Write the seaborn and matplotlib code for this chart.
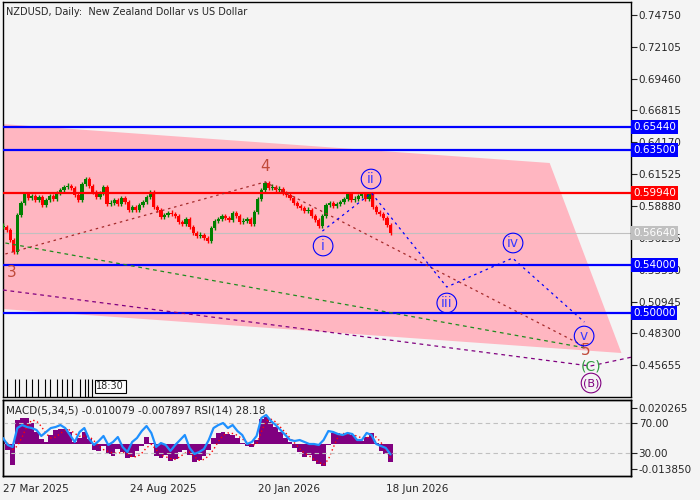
import numpy as np
import pandas as pd
import matplotlib
matplotlib.use("Agg")
import matplotlib.pyplot as plt
import seaborn as sns

sns.set_style("white")
plt.rcParams["font.family"] = ["DejaVu Sans"]
BG = "#f4f4f4"

# daily closes, one value read every 3 bars
close_step = 3
closes = [0.5714, 0.5689, 0.5606, 0.5506, 0.5813, 0.5913, 0.5988, 0.5954, 0.5971, 0.5938,
          0.5963, 0.5896, 0.5938, 0.5971, 0.5946, 0.5996, 0.6021, 0.6046, 0.6054, 0.6037,
          0.5979, 0.5938, 0.6071, 0.6112, 0.6054, 0.6004, 0.5963, 0.5996, 0.6046, 0.5905,
          0.5913, 0.5938, 0.5905, 0.5954, 0.5921, 0.5855, 0.5880, 0.5855, 0.5896, 0.5921,
          0.5963, 0.6004, 0.5880, 0.5855, 0.5797, 0.5813, 0.5830, 0.5822, 0.5805, 0.5755,
          0.5739, 0.5780, 0.5714, 0.5664, 0.5639, 0.5647, 0.5622, 0.5598, 0.5705, 0.5763,
          0.5780, 0.5805, 0.5788, 0.5772, 0.5830, 0.5805, 0.5755, 0.5763, 0.5780, 0.5739,
          0.5838, 0.5946, 0.6021, 0.6079, 0.6037, 0.6046, 0.6021, 0.6029, 0.5996, 0.5979,
          0.5954, 0.5913, 0.5888, 0.5871, 0.5846, 0.5855, 0.5805, 0.5772, 0.5722, 0.5805,
          0.5896, 0.5913, 0.5888, 0.5905, 0.5921, 0.5946, 0.5988, 0.5938, 0.5946, 0.5971,
          0.5988, 0.5946, 0.5988, 0.5880, 0.5838, 0.5822, 0.5788, 0.5730, 0.5664]

# MACD(5,34,5) and RSI(14), one value read every 4 bars
ind_step = 4
macd_hist = [0.0023, -0.0032, -0.0116, 0.0135, 0.0147, 0.0147, 0.0119, 0.0068, 0.0029, 0.0012,
             0.0051, 0.0079, 0.0085, 0.0085, 0.0068, 0.0012, 0.0035, 0.0068, 0.0029, -0.0032,
             -0.0038, -0.0010, -0.0055, -0.0066, -0.0027, -0.0044, -0.0077, -0.0072, -0.0038, -0.0010,
             0.0040, 0.0007, -0.0066, -0.0077, -0.0060, -0.0094, -0.0083, -0.0044, -0.0032, -0.0060,
             -0.0100, -0.0088, -0.0066, -0.0032, 0.0035, 0.0063, 0.0068, 0.0057, 0.0051, 0.0035,
             0.0007, -0.0010, -0.0016, 0.0023, 0.0141, 0.0152, 0.0124, 0.0096, 0.0068, 0.0035,
             0.0012, -0.0021, -0.0044, -0.0072, -0.0060, -0.0094, -0.0111, -0.0122, -0.0004, 0.0063,
             0.0063, 0.0051, 0.0057, 0.0051, 0.0029, 0.0018, 0.0040, 0.0063, 0.0007, -0.0038,
             -0.0055, -0.0100]
macd_signal = [0.0010, 0.0005, -0.0030, -0.0010, 0.0040, 0.0100, 0.0135, 0.0130, 0.0100, 0.0060,
               0.0035, 0.0040, 0.0060, 0.0080, 0.0080, 0.0060, 0.0045, 0.0045, 0.0045, 0.0020,
               -0.0010, -0.0030, -0.0040, -0.0050, -0.0050, -0.0045, -0.0055, -0.0070, -0.0070, -0.0050,
               -0.0020, 0.0000, -0.0030, -0.0060, -0.0070, -0.0080, -0.0085, -0.0070, -0.0050, -0.0045,
               -0.0070, -0.0090, -0.0085, -0.0065, -0.0030, 0.0015, 0.0050, 0.0063, 0.0060, 0.0050,
               0.0030, 0.0010, -0.0005, 0.0000, 0.0070, 0.0130, 0.0140, 0.0125, 0.0095, 0.0065,
               0.0035, 0.0005, -0.0025, -0.0050, -0.0065, -0.0085, -0.0100, -0.0115, -0.0085, -0.0020,
               0.0040, 0.0060, 0.0058, 0.0055, 0.0045, 0.0035, 0.0035, 0.0045, 0.0040, 0.0010,
               -0.0030, -0.0079]
rsi = [50.0, 40.7, 38.0, 63.3, 67.3, 64.7, 63.3, 60.7, 52.7, 58.0,
       63.3, 64.7, 67.3, 63.3, 54.0, 44.7, 58.0, 63.3, 48.7, 40.7,
       46.0, 52.7, 40.7, 44.7, 51.3, 38.0, 31.3, 44.7, 50.0, 59.3,
       66.0, 56.7, 38.0, 43.3, 40.7, 32.7, 40.7, 47.3, 54.0, 36.7,
       28.7, 31.3, 35.3, 47.3, 63.3, 67.3, 70.0, 63.3, 67.3, 59.3,
       54.0, 42.0, 44.7, 52.7, 76.7, 80.7, 72.7, 67.3, 60.7, 54.0,
       47.3, 46.0, 47.3, 44.7, 42.0, 42.0, 40.7, 47.3, 59.3, 58.0,
       55.3, 54.0, 56.7, 55.3, 47.3, 47.3, 56.7, 54.0, 42.0, 39.3,
       36.7, 28.18]

date_ticks = [0, 106, 213, 320]
date_labels = ["27 Mar 2025", "24 Aug 2025", "20 Jan 2026", "18 Jun 2026"]
price_ticks = [0.74750, 0.72105, 0.69460, 0.66815, 0.64170, 0.61525,
               0.58880, 0.56235, 0.53590, 0.50945, 0.48300, 0.45655]

level_prices = [0.65440, 0.63500, 0.59940, 0.54000, 0.50000]
level_colors = ["#0000ff", "#0000ff", "#ff0000", "#0000ff", "#0000ff"]
last_price = 0.56640

# forecast channel
channel_x = [0, 457, 517, 0]
channel_y = [0.6568, 0.6245, 0.4668, 0.5033]

# wave paths
major_x = [2, 219, 487]
major_y = [0.5490, 0.6087, 0.4718]
minor_x = [267, 308, 371, 426, 486]
minor_y = [0.5680, 0.5996, 0.5216, 0.5456, 0.4925]
green_x = [2, 487]
green_y = [0.5581, 0.4710]
purple_x = [0, 491, 526]
purple_y = [0.5191, 0.4560, 0.4635]

major_labels = ["3", "4", "5"]
major_lx = [7.5, 219, 487.5]
major_ly = [0.5340, 0.6212, 0.4693]
minor_labels = ["i", "ii", "iii", "iv", "v"]
minor_lx = [267.6, 307.7, 371, 426.4, 485.8]
minor_ly = [0.5556, 0.6112, 0.5083, 0.5581, 0.4809]

sep_bars = [0, 3.3, 10, 13.4, 19.2, 24.2, 29.3, 35.1, 39.3, 45.2, 49.3, 53.5, 57.7, 64.4, 68.6, 71.1, 74.4]

fig = plt.figure(figsize=(7, 5), dpi=100, facecolor=BG)
ax = fig.add_axes([3 / 700, 103 / 500, 628 / 700, 395 / 500], facecolor=BG)
ax2 = fig.add_axes([3 / 700, 24 / 500, 628 / 700, 76 / 500], facecolor=BG, sharex=ax)

# channel
ax.fill(channel_x, channel_y, color="#ffb6c1", lw=0, zorder=1)

# candles (body = previous close -> close, short wicks)
x_c = np.arange(len(closes)) * close_step
opens = np.array([closes[0]] + closes[:-1])
cl = np.array(closes)
bottoms = np.minimum(opens, cl)
heights = np.maximum(np.abs(cl - opens), 0.0012)
cols = np.where(cl >= opens, "#008000", "#ff0000")
wick = 0.002
ax.vlines(x_c, bottoms - wick, bottoms + heights + wick, colors=cols, lw=1.0, zorder=3)
ax.bar(x_c, heights, bottom=bottoms, width=2.7, color=cols, lw=0, zorder=3)

# levels
for p, c in zip(level_prices, level_colors):
    ax.axhline(p, color=c, lw=1.6, zorder=3.5)
ax.axhline(last_price, color="#c0c0c0", lw=0.8, zorder=2)

# wave lines
sns.lineplot(x=major_x, y=major_y, ax=ax, color="#a52a2a", linestyle=(0, (2, 3)), lw=0.9, zorder=4)
sns.lineplot(x=green_x, y=green_y, ax=ax, color="#1e8c1e", linestyle=(0, (3, 3)), lw=0.9, zorder=4)
sns.lineplot(x=purple_x, y=purple_y, ax=ax, color="#800080", linestyle=(0, (3, 3)), lw=0.9, zorder=4)
sns.lineplot(x=minor_x, y=minor_y, ax=ax, color="#0000ff", linestyle=(0, (2, 3)), lw=0.9, zorder=4)

for t, x, y in zip(major_labels, major_lx, major_ly):
    ax.text(x, y, t, color="#c04a3a", fontsize=11, ha="center", va="center", zorder=6)
ax.scatter(minor_lx, minor_ly, s=200, facecolor="none", edgecolor="#0000ff", lw=0.8, zorder=6)
for t, x, y in zip(minor_labels, minor_lx, minor_ly):
    ax.text(x, y, t, color="#3c3cff", fontsize=10, ha="center", va="center", zorder=6)
ax.text(491.6, 0.4560, "(C)", color="#2e9a3e", fontsize=10, ha="center", va="center", zorder=6)
ax.scatter([491.6], [0.4419], s=200, facecolor="none", edgecolor="#800080", lw=0.8, zorder=6)
ax.text(491.6, 0.4419, "(B)", color="#800080", fontsize=8, ha="center", va="center", zorder=6)

ax.set_xlim(0, 525)
ax.set_ylim(0.4303, 0.7581)
ax.yaxis.tick_right()
ax.set_yticks(price_ticks, [f"{t:.5f}" for t in price_ticks])
ax.tick_params(axis="y", direction="out", length=4, width=0.8, labelsize=7.5, pad=1.5)
ax.tick_params(axis="x", bottom=False, labelbottom=False)
ax.set_xlabel("")
ax.set_ylabel("")

trans = ax.get_yaxis_transform()
for p, c in zip(level_prices + [last_price], level_colors + ["#c0c0c0"]):
    ax.text(1.003, p, f"{p:.5f}", transform=trans, color="white", fontsize=7.5, va="center", ha="left",
            bbox=dict(boxstyle="square,pad=0.2", fc=c, ec="none"), zorder=10, clip_on=False)

ax.text(0.004, 0.988, "NZDUSD, Daily:  New Zealand Dollar vs US Dollar", transform=ax.transAxes,
        fontsize=7, va="top", ha="left")

xt = ax.get_xaxis_transform()
ax.vlines(sep_bars, 0, 0.046, transform=xt, color="black", lw=0.8, zorder=5)
ax.text(78, 0.027, "18:30", transform=xt, fontsize=7, va="center", ha="left",
        bbox=dict(boxstyle="square,pad=0.15", fc="white", ec="black", lw=0.8), zorder=6)

# MACD + RSI panel
ax3 = ax2.twinx()
x_i = np.arange(len(macd_hist)) * ind_step
ax2.bar(x_i, macd_hist, width=ind_step, color="#800080", lw=0, zorder=2)
sns.lineplot(x=np.arange(len(macd_signal)) * ind_step, y=macd_signal, ax=ax2, color="#ff0000",
             linestyle=(0, (1, 2)), lw=1, zorder=3)
ax2.set_ylim(-0.01777, 0.02474)
ax2.yaxis.tick_right()
ax2.set_yticks([0.020265, -0.013850], ["0.020265", "-0.013850"])
ax2.tick_params(axis="y", direction="out", length=4, width=0.8, labelsize=7.5, pad=1.5,
                left=False, labelleft=False, right=True, labelright=True)
ax2.set_xticks(date_ticks, date_labels, ha="left")
ax2.tick_params(axis="x", direction="out", length=4, width=0.8, labelsize=7.5, pad=2)
ax2.set_xlabel("")
ax2.set_ylabel("")

ax3.axhline(70, color="#c0c0c0", lw=0.8, ls=(0, (4, 3)), zorder=1)
ax3.axhline(30, color="#c0c0c0", lw=0.8, ls=(0, (4, 3)), zorder=1)
sns.lineplot(x=np.arange(len(rsi)) * ind_step, y=rsi, ax=ax3, color="#1e90ff", lw=1.6, zorder=4)
ax3.set_ylim(-0.7, 100.7)
ax3.set_yticks([70, 30], ["70.00", "30.00"])
ax3.tick_params(axis="y", direction="out", length=4, width=0.8, labelsize=7.5, pad=1.5)
ax3.set_ylabel("")
ax3.text(0.004, 0.93, "MACD(5,34,5) -0.010079 -0.007897 RSI(14) 28.18", transform=ax3.transAxes,
         fontsize=7.5, va="top", ha="left", zorder=10)

for a in (ax, ax2, ax3):
    for s in a.spines.values():
        s.set_color("black")
        s.set_linewidth(1)

fig.savefig("out.png", dpi=100, facecolor=BG)
